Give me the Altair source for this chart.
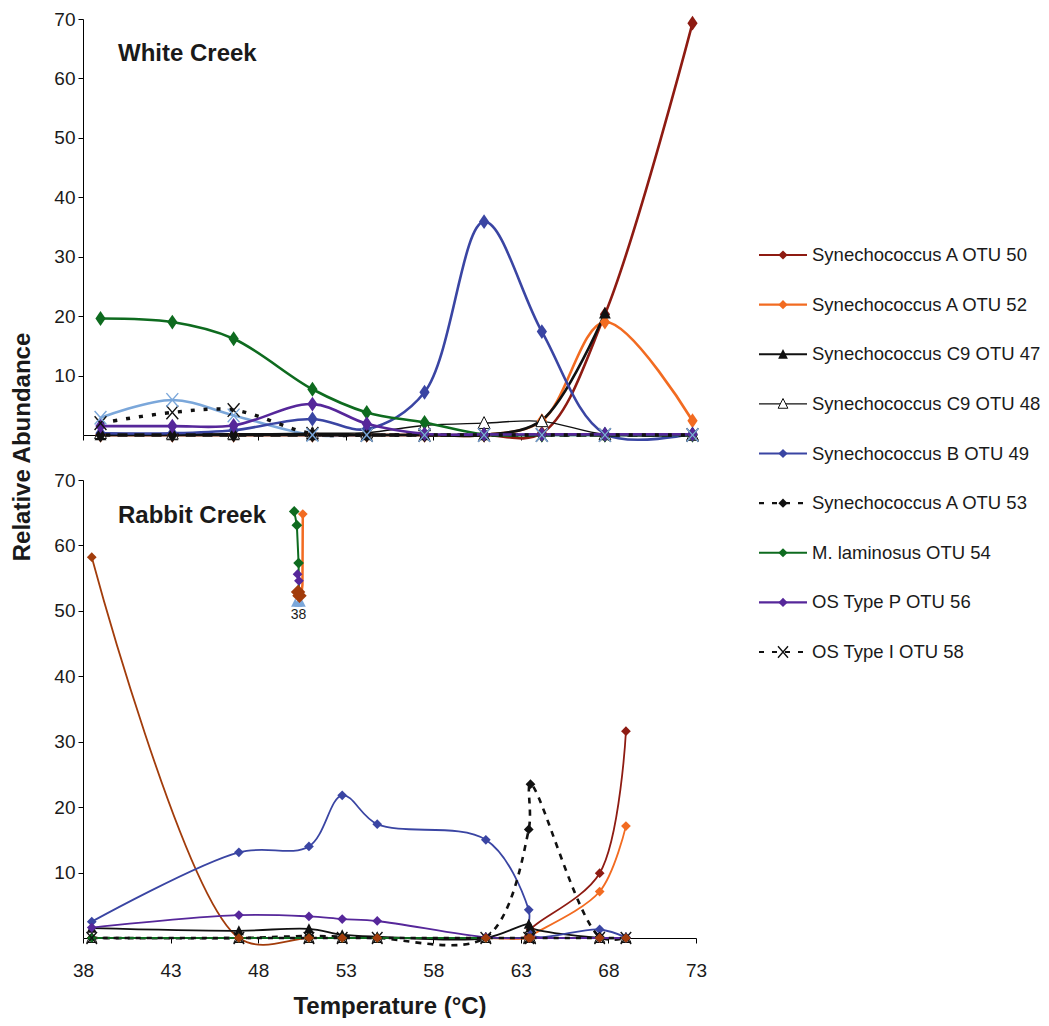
import altair as alt
import pandas as pd

# ---------------- White Creek (top panel) ----------------
wc_temp = [39.0, 43.1, 46.6, 51.1, 54.2, 57.5, 60.9, 64.2, 67.8, 72.8]
wc_otu50 = [0, 0, 0, 0, 0, 0, 0, 0.3, 20.3, 69.3]
wc_otu52 = [0, 0, 0, 0, 0, 0, 0, 2.4, 19.0, 2.4]
wc_otu47 = [0, 0, 0, 0, 0, 0, 0, 2.5, 20.5, None]
wc_otu48 = [0.3, 0.2, 0.2, 0.3, 0.4, 1.6, 2.0, 2.3, 0.1, 0.0]
wc_otu49 = [0.3, 0.3, 0.8, 2.7, 1.0, 7.2, 35.9, 17.4, 0.2, 0.2]
wc_otu53 = [0, 0, 0, 0, 0, 0, 0, 0, 0, 0]
wc_otu54 = [19.6, 19.0, 16.2, 7.7, 3.8, 2.1, 0.1, 0, 0, 0]
wc_otu56 = [1.5, 1.5, 1.6, 5.2, 1.9, 0.2, 0.1, 0.1, 0.1, 0.1]
wc_otu58 = [2.0, 3.8, 4.2, 0.2, 0, 0, 0, 0, 0, 0]
wc_lightblue = [2.9, 5.9, 3.3, 0, 0, 0, 0, 0, 0, 0]

# ---------------- Rabbit Creek (bottom panel) ----------------
rc_temp = [38.5, 46.9, 50.9, 52.8, 54.8, 61.0, 63.45, 63.55, 67.5, 69.0]
rc_otu50 = [0, 0, 0, 0, 0, 0, 0.3, 1.3, 9.9, 31.6]
rc_otu52 = [0, 0, 0, 0, 0, 0, 0, 0.3, 7.1, 17.1]
rc_otu47 = [1.5, 1.1, 1.4, 0.5, 0.2, 0, 2.1, 1.6, 0, 0]
rc_otu48 = [0, 0, 0, 0, 0, 0, 0, 0, 0, 0]
rc_otu49 = [2.5, 13.1, 14.0, 21.8, 17.4, 15.0, 4.3, 0.5, 1.3, 0.1]
rc_otu53 = [0, 0, 0.3, 0.2, 0, 0.1, 16.6, 23.5, 0.2, 0]
rc_otu54 = [0, 0, 0, 0, 0, 0, 0, 0, 0, 0]
rc_otu56 = [1.6, 3.5, 3.3, 2.9, 2.6, 0.1, 0, 0, 0, 0]
rc_otu58 = [0, 0, 0, 0, 0, 0, 0, 0, 0, 0]
rc_brown = [58.2, 0, 0, 0, 0, 0, 0, 0, 0, 0]

# small collapsed cluster drawn in the Rabbit Creek panel
gl_green_t = [50.06, 50.21, 50.31, 50.33]
gl_green_v = [65.2, 63.1, 57.3, 52.5]
gl_orange_t = [50.55, 50.53, 50.45]
gl_orange_v = [64.8, 54.0, 52.0]
gl_purple_t = [50.25, 50.33]
gl_purple_v = [55.6, 54.6]
gl_brown_t = [50.28, 50.36]
gl_brown_v = [52.9, 52.3]
gl_tri_t = [50.12, 50.3, 50.48]
gl_tri_v = [51.2, 51.2, 51.2]
gl_label_t = [50.31]
gl_label_v = [49.3]
gl_label = ["38"]

legend_names = [
    "Synechococcus A OTU 50",
    "Synechococcus A OTU 52",
    "Synechococcus C9 OTU 47",
    "Synechococcus C9 OTU 48",
    "Synechococcus B OTU 49",
    "Synechococcus A OTU 53",
    "M. laminosus OTU 54",
    "OS Type P OTU 56",
    "OS Type I OTU 58",
]
x_ticks = [38, 43, 48, 53, 58, 63, 68, 73]
y_ticks = [10, 20, 30, 40, 50, 60, 70]

FONT = "Liberation Sans"
DIAMOND_TALL = "M0,-1.45L1,0L0,1.45L-1,0Z"
TRI = "M0,-1.1L1,0.9L-1,0.9Z"
XMARK = "M-1,-1.15L1,1.15M-1,1.15L1,-1.15"
CURVE = "catmull-rom"

# style per series: color, thin line?, dash kind, marker kind
STY = {
    "50": ("#8E1B12", False, None, "diamond"),
    "52": ("#F26B21", False, None, "diamond"),
    "47": ("#111111", False, None, "tri"),
    "48": ("#111111", True, None, "tri_open"),
    "49": ("#3A45A3", False, None, "diamond"),
    "53": ("#111111", False, "dash", "diamond"),
    "54": ("#0E6B1F", False, None, "diamond"),
    "56": ("#56279A", False, None, "diamond"),
    "58": ("#111111", False, "dot", "x"),
    "lb": ("#7BA7DA", False, None, "x"),
    "br": ("#A23C0B", False, None, "diamond"),
}

PANEL = {
    "top": dict(lw=2.6, thin=1.4, dashw=3.5, dash={"dash": [10, 7], "dot": [4, 9]},
                dsize=105, dshape=DIAMOND_TALL, tsize=140, xsize=140),
    "bot": dict(lw=1.8, thin=1.2, dashw=2.6, dash={"dash": [6, 6], "dot": [5, 6]},
                dsize=95, dshape="diamond", tsize=100, xsize=110),
}


def encs(x_axis, y_axis):
    X = alt.X("t:Q", scale=alt.Scale(domain=[38, 73], nice=False, zero=False), axis=x_axis)
    Y = alt.Y("v:Q", scale=alt.Scale(domain=[0, 70], nice=False, zero=False), axis=y_axis)
    return X, Y


def point_kw(kind, color, p, big=1.0):
    if kind == "diamond":
        return dict(shape=p["dshape"], size=p["dsize"] * big, filled=True,
                    color=color, opacity=1, clip=False)
    if kind == "tri":
        return dict(shape=TRI, size=p["tsize"] * big, filled=True,
                    color=color, opacity=1, clip=False)
    if kind == "tri_open":
        return dict(shape=TRI, size=p["tsize"] * big, filled=True,
                    fill="white", stroke="#111111", strokeWidth=1, opacity=1, clip=False)
    return dict(shape=XMARK, size=p["xsize"] * big, filled=False,
                color=color, strokeWidth=1.4, opacity=1, clip=False)


def panel_layers(temps, series, pkey, X, Y, line_order, point_order):
    p = PANEL[pkey]
    lines, points = [], []
    for key in line_order:
        vals = series[key]
        df = pd.DataFrame({"t": temps, "v": vals}).dropna()
        color, thin, dash, kind = STY[key]
        kw = dict(interpolate=CURVE, color=color, clip=False,
                  strokeWidth=(p["thin"] if thin else (p["dashw"] if dash else p["lw"])))
        if dash:
            kw["strokeDash"] = p["dash"][dash]
        lines.append(alt.Chart(df).mark_line(**kw).encode(x=X, y=Y))
    for key in point_order:
        vals = series[key]
        df = pd.DataFrame({"t": temps, "v": vals}).dropna()
        color, thin, dash, kind = STY[key]
        points.append(alt.Chart(df).mark_point(**point_kw(kind, color, p)).encode(x=X, y=Y))
    return lines + points


def label_text(txt, x, y, size=24, angle=None):
    kw = dict(align="center" if angle else "left", baseline="middle", font=FONT,
              fontSize=size, fontWeight="bold", color="#1a1a1a")
    if angle:
        kw["angle"] = angle
    return alt.Chart(pd.DataFrame({"label": [txt]})).mark_text(**kw).encode(
        text="label:N", x=alt.value(x), y=alt.value(y))


y_axis = alt.Axis(values=y_ticks, title=None, grid=False, labelFont=FONT, labelFontSize=19,
                  labelColor="#1a1a1a", tickSize=5, labelPadding=3, domainColor="#000",
                  tickColor="#000")
x_axis_top = alt.Axis(values=x_ticks, labels=False, title=None, grid=False, tickSize=5,
                      domainColor="#000", tickColor="#000")
x_axis_bot = alt.Axis(values=x_ticks, title="Temperature (°C)", grid=False, labelFont=FONT,
                      labelFontSize=19, labelColor="#1a1a1a", tickSize=5, labelPadding=18,
                      labelFlush=False, titleFont=FONT, titleFontSize=24, titleFontWeight="bold",
                      titleColor="#1a1a1a", titlePadding=14, domainColor="#000",
                      tickColor="#000")

order_lines = ["lb", "br", "50", "52", "47", "48", "49", "53", "54", "56", "58"]
order_points = ["50", "52", "47", "48", "49", "53", "54", "56", "58", "lb", "br"]

# top panel
Xt, Yt = encs(x_axis_top, y_axis)
wc_series = {"50": wc_otu50, "52": wc_otu52, "47": wc_otu47, "48": wc_otu48, "49": wc_otu49,
             "53": wc_otu53, "54": wc_otu54, "56": wc_otu56, "58": wc_otu58, "lb": wc_lightblue}
top_layers = panel_layers(wc_temp, wc_series, "top", Xt, Yt,
                          [k for k in order_lines if k != "br"],
                          [k for k in order_points if k != "br"])
top_layers.append(label_text("White Creek", 35, 35))
top_layers.append(label_text("Relative Abundance", -60, 428, size=24, angle=270))
top = alt.layer(*top_layers).properties(width=613, height=416)

# bottom panel
Xb, Yb = encs(x_axis_bot, y_axis)
rc_series = {"50": rc_otu50, "52": rc_otu52, "47": rc_otu47, "48": rc_otu48, "49": rc_otu49,
             "53": rc_otu53, "54": rc_otu54, "56": rc_otu56, "58": rc_otu58, "br": rc_brown}
bot_layers = panel_layers(rc_temp, rc_series, "bot", Xb, Yb,
                          [k for k in order_lines if k != "lb"],
                          [k for k in order_points if k != "lb"])
pb = PANEL["bot"]


def gl(t, v):
    return alt.Chart(pd.DataFrame({"t": t, "v": v}))


bot_layers += [
    gl(gl_green_t, gl_green_v).mark_line(color=STY["54"][0], strokeWidth=2, clip=False).encode(x=Xb, y=Yb),
    gl(gl_orange_t, gl_orange_v).mark_line(color=STY["52"][0], strokeWidth=2.5, clip=False).encode(x=Xb, y=Yb),
    gl(gl_tri_t, gl_tri_v).mark_point(shape=TRI, size=70, filled=True, color=STY["lb"][0],
                                      opacity=1).encode(x=Xb, y=Yb),
    gl(gl_orange_t[:1], gl_orange_v[:1]).mark_point(**point_kw("diamond", STY["52"][0], pb)).encode(x=Xb, y=Yb),
    gl(gl_green_t, gl_green_v).mark_point(**point_kw("diamond", STY["54"][0], pb, 1.2)).encode(x=Xb, y=Yb),
    gl(gl_purple_t, gl_purple_v).mark_point(**point_kw("diamond", STY["56"][0], pb)).encode(x=Xb, y=Yb),
    gl(gl_brown_t, gl_brown_v).mark_point(**point_kw("diamond", STY["br"][0], pb, 2.2)).encode(x=Xb, y=Yb),
    alt.Chart(pd.DataFrame({"t": gl_label_t, "v": gl_label_v, "label": gl_label})).mark_text(
        font=FONT, fontSize=14, color="#1a1a1a", baseline="middle").encode(x=Xb, y=Yb, text="label:N"),
]
bot_layers.append(label_text("Rabbit Creek", 35, 36))
bottom = alt.layer(*bot_layers).properties(width=613, height=458)

# legend
legend_keys = ["50", "52", "47", "48", "49", "53", "54", "56", "58"]
LY = alt.Y("name:N", scale=alt.Scale(type="point", domain=legend_names, range=[236, 633], padding=0),
           axis=None)
PL = dict(dshape="diamond", dsize=85, tsize=95, xsize=100)
leg_layers = []
for name, key in zip(legend_names, legend_keys):
    color, thin, dash, kind = STY[key]
    df = pd.DataFrame({"name": [name]})
    rk = dict(color=color, strokeWidth=1.3 if thin else 2.2)
    if dash:
        rk["strokeDash"] = [5, 8]
    leg_layers.append(alt.Chart(df).mark_rule(**rk).encode(x=alt.value(0), x2=alt.value(48), y=LY))
    leg_layers.append(alt.Chart(df).mark_point(**point_kw(kind, color, PL)).encode(x=alt.value(24), y=LY))
    leg_layers.append(alt.Chart(df).mark_text(align="left", baseline="middle", font=FONT, fontSize=18.5,
                                              color="#1a1a1a").encode(x=alt.value(53), y=LY, text="name:N"))
legend = alt.layer(*leg_layers).properties(width=270, height=416)

chart = alt.concat(top, legend, bottom, columns=2, spacing={"row": 45, "column": 63},
                   bounds="flush", align="each").properties(
    padding={"left": 3, "top": 2, "right": 0, "bottom": 0}
).configure(font=FONT).configure_view(strokeWidth=0, stroke="transparent")

chart.save("out.html", embed_options={"renderer": "svg", "actions": False})
